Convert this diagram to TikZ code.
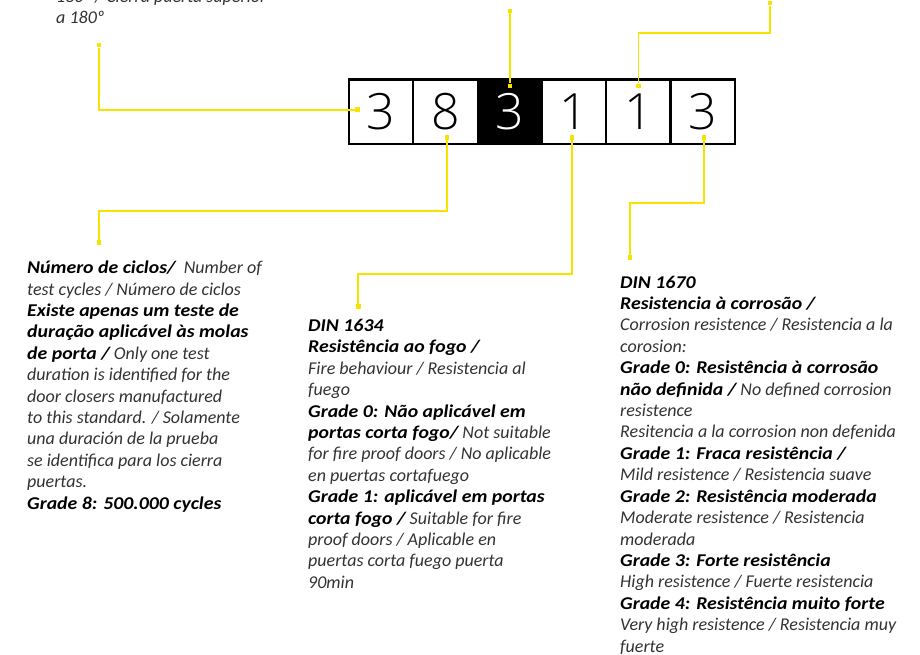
\documentclass[tikz,border=0pt]{standalone}
\usepackage{fontspec}
\setmainfont{Carlito}
\newfontfamily\boldfam{Carlito}[FakeStretch=1.1]
\IfFontExistsTF{Open Sans Light}{\newfontfamily\digitfont{Open Sans Light}}{\newfontfamily\digitfont{Open Sans}}
\usepackage{tikz}
\usetikzlibrary{positioning}
\definecolor{leader}{RGB}{245,228,0}
\definecolor{bodytext}{RGB}{50,50,50}
\newcommand{\hd}[1]{{\boldfam\bfseries\itshape\color{black}#1}}

\begin{document}
\begin{tikzpicture}[x=1pt, y=-1pt, node distance=0pt,
  digit/.style={rectangle, draw=black, line width=2.2pt, minimum width=64.3pt, minimum height=64.3pt, inner sep=0pt, outer sep=0pt, font=\digitfont\fontsize{50}{50}\selectfont},
  note/.style={align=left, anchor=north west, inner sep=0pt, text=bodytext, font=\itshape\fontsize{18}{21.4}\selectfont},
  dot/.style={rectangle, fill=leader, inner sep=0pt, minimum size=4.6pt},
  leaderline/.style={draw=leader, line width=1.8pt}]
\useasboundingbox (0,0) rectangle (920,654);
\clip (0,0) rectangle (920,654);

% the code 3 8 3 1 1 3
\node (d1) [digit] at (381.2,111.6) {3};
\node (d2) [digit, right=of d1] {8};
\node (d3) [digit, fill=black, text=white, right=of d2] {3};
\node (d4) [digit, right=of d3] {1};
\node (d5) [digit, right=of d4] {1};
\node (d6) [digit, right=of d5] {3};

% dots on the boxes
\node (p1) [dot, right=6pt of d1.west, yshift=1.9pt] {};
\node (p2) [dot, above=4pt of d2.south, xshift=1.5pt] {};
\node (p3) [dot, below=4pt of d3.north] {};
\node (p4) [dot, above=4pt of d4.south, xshift=-2pt] {};
\node (p5) [dot, below=4pt of d5.north] {};
\node (p6) [dot, above=4pt of d6.south, xshift=1.3pt] {};

% dots at the notes
\node (q1) [dot] at (99,45) {};
\node (q2) [dot] at (99,242.5) {};
\node (q3) [dot, above=70pt of p3] {};
\node (q4) [dot] at (358.3,306.7) {};
\node (q5) [dot] at (770,3) {};
\node (q6) [dot] at (630,257.7) {};

\draw [leaderline] (p1) -| (q1);
\draw [leaderline] (p2) -- ++(0,74) -| (q2);
\draw [leaderline] (p3) -- (q3);
\draw [leaderline] (p4) -- ++(0,136.5) -| (q4);
\draw [leaderline] (p5) -- ++(0,-53) -| (q5);
\draw [leaderline] (p6) -- ++(0,66) -| (q6);

% notes
\node (t0) [note] at (56,-10) {180º / Cierra puerta superior\\
a 180º};

\node (t1) [note] at (27,260.8) {\hd{Número de ciclos/}\ \ Number of\\
test cycles / Número de ciclos\\
\hd{Existe apenas um teste de}\\
\hd{duração aplicável às molas}\\
\hd{de porta /} Only one test\\
duration is identified for the\\
door closers manufactured\\
to this standard. / Solamente\\
una duración de la prueba\\
se identifica para los cierra\\
puertas.\\
\hd{Grade 8: 500.000 cycles}};

\node (t2) [note] at (308,319.1) {\hd{DIN 1634}\\
\hd{Resistência ao fogo /}\\
Fire behaviour / Resistencia al\\
fuego\\
\hd{Grade 0: Não aplicável em}\\
\hd{portas corta fogo/} Not suitable\\
for fire proof doors / No aplicable\\
en puertas cortafuego\\
\hd{Grade 1: aplicável em portas}\\
\hd{corta fogo /} Suitable for fire\\
proof doors / Aplicable en\\
puertas corta fuego puerta\\
90min};

\node (t3) [note] at (620,275.7) {\hd{DIN 1670}\\
\hd{Resistencia à corrosão /}\\
Corrosion resistence / Resistencia a la\\
corosion:\\
\hd{Grade 0: Resistência à corrosão}\\
\hd{não definida /} No defined corrosion\\
resistence\\
Resitencia a la corrosion non defenida\\
\hd{Grade 1: Fraca resistência /}\\
Mild resistence / Resistencia suave\\
\hd{Grade 2: Resistência moderada}\\
Moderate resistence / Resistencia\\
moderada\\
\hd{Grade 3: Forte resistência}\\
High resistence / Fuerte resistencia\\
\hd{Grade 4: Resistência muito forte}\\
Very high resistence / Resistencia muy\\
fuerte};
\end{tikzpicture}
\end{document}
